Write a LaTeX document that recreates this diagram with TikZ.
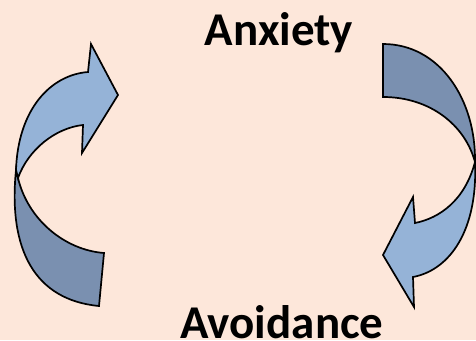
\documentclass[tikz,border=0pt]{standalone}
\usepackage{fontspec}
\setmainfont{Carlito}
\definecolor{bgpeach}{HTML}{FDE7DA}
\definecolor{lightblue}{HTML}{95B3D7}
\definecolor{darkblue}{HTML}{7A90B0}
\begin{document}
\begin{tikzpicture}[x=1pt,y=-1pt,
  band/.style={draw=black, line width=1.7pt, line join=miter},
  lbl/.style={font=\bfseries\fontsize{47}{54}\selectfont, anchor=base, inner sep=0pt}]
\fill[bgpeach] (0,0) rectangle (476,340);
\useasboundingbox (0,0) rectangle (476,340);
% left arrow: back (dark) part
\path[band, fill=darkblue] (16,170) .. controls (8,250) and (35,300) .. (99,306)
  -- (104,253) .. controls (65,250) and (28,220) .. (18,178) -- cycle;
% left arrow: front (light) part with head
\path[band, fill=lightblue] (16,170) .. controls (18,110) and (50,75) .. (88,72)
  -- (91,44) -- (118,95) -- (82,153) -- (83,125)
  .. controls (55,128) and (28,150) .. (18,178) -- cycle;
% right arrow: back (dark) part
\path[band, fill=darkblue] (383,44) -- (383,97)
  .. controls (430,97) and (465,125) .. (475,162)
  .. controls (476,100) and (440,44) .. (383,44) -- cycle;
% right arrow: front (light) part with head
\path[band, fill=lightblue] (475,162) .. controls (465,200) and (440,218) .. (415,223)
  -- (413,197) -- (383,255) -- (414,307) -- (413,277)
  .. controls (450,270) and (478,230) .. (475,162) -- cycle;
\node[lbl] (anx) at (279,45) {Anxiety};
\node[lbl] (avo) at (282,338) {Avoidance};
\end{tikzpicture}
\end{document}
